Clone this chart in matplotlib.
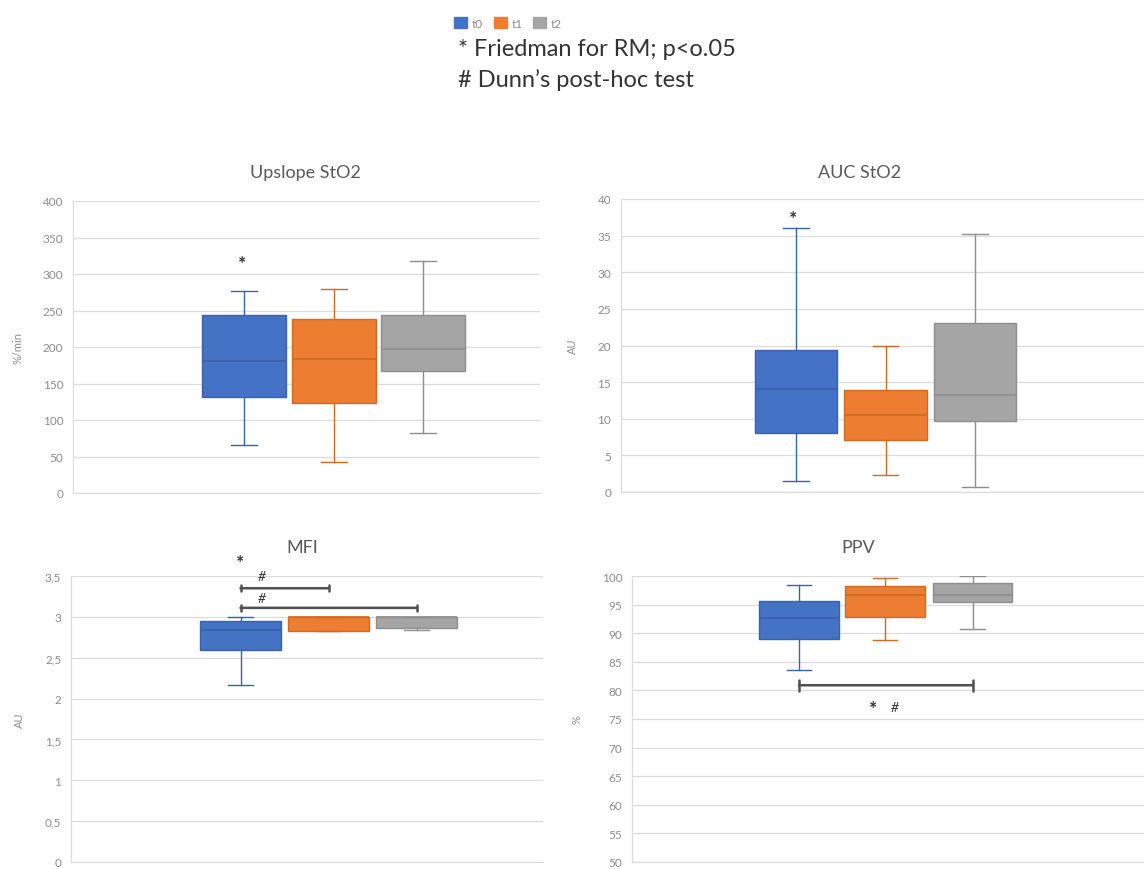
import numpy as np
import matplotlib
matplotlib.use("Agg")
import matplotlib.pyplot as plt
from matplotlib.patches import Patch
from matplotlib.ticker import FuncFormatter

plt.rcParams['font.family'] = ['Lato', 'DejaVu Sans']

# --- data (whisker low, Q1, median, Q3, whisker high) per time point ---
groups = ['t0', 't1', 't2']
colors = ['#4472C4', '#ED7D31', '#A5A5A5']
edge_colors = ['#3A62AC', '#D06A22', '#8E8E8E']

upslope_lo = [66, 42, 82]
upslope_q1 = [132, 123, 167]
upslope_med = [181, 184, 197]
upslope_q3 = [244, 239, 244]
upslope_hi = [277, 279, 318]

auc_lo = [1.5, 2.3, 0.7]
auc_q1 = [8.1, 7.1, 9.7]
auc_med = [14.0, 10.5, 13.3]
auc_q3 = [19.4, 13.9, 23.1]
auc_hi = [36.0, 19.9, 35.2]

mfi_lo = [2.17, 2.83, 2.84]
mfi_q1 = [2.59, 2.83, 2.86]
mfi_med = [2.84, 3.0, 3.0]
mfi_q3 = [2.95, 3.0, 3.0]
mfi_hi = [3.0, 3.0, 3.0]

ppv_lo = [83.6, 88.8, 90.7]
ppv_q1 = [89.0, 92.9, 95.5]
ppv_med = [92.6, 96.7, 96.7]
ppv_q3 = [95.7, 98.3, 98.8]
ppv_hi = [98.4, 99.6, 100.0]

W, H = 1144, 870
fig = plt.figure(figsize=(W / 100, H / 100), dpi=100)
fig.patch.set_facecolor('white')

TXT = '#595959'
TICK = '#8c8c8c'
GRID = '#dcdcdc'
MARK = '#333333'


def make_ax(left, top, right, bottom):
    return fig.add_axes([left / W, 1 - bottom / H, (right - left) / W, (bottom - top) / H])


def panel(ax, lo, q1, med, q3, hi, centers_px, left_px, right_px, ylim, step, ylabel, width, capw, fmt=None):
    stats = []
    for i in range(3):
        stats.append(dict(whislo=lo[i], q1=q1[i], med=med[i], q3=q3[i], whishi=hi[i], fliers=[]))
    s = (centers_px[2] - centers_px[0]) / 2.0
    ax.set_xlim(1 - (centers_px[0] - left_px) / s, 3 + (right_px - centers_px[2]) / s)
    pos = [1, 1 + (centers_px[1] - centers_px[0]) / s, 3]
    for i in range(3):
        ax.bxp([stats[i]], positions=[pos[i]], widths=width, capwidths=capw, patch_artist=True,
               showfliers=False,
               boxprops=dict(facecolor=colors[i], edgecolor=edge_colors[i], linewidth=1.0),
               medianprops=dict(color=edge_colors[i], linewidth=1.2),
               whiskerprops=dict(color=edge_colors[i], linewidth=1.0),
               capprops=dict(color=edge_colors[i], linewidth=1.0))
    ax.set_ylim(*ylim)
    ax.set_yticks(np.arange(ylim[0], ylim[1] + step / 2, step))
    if fmt is not None:
        ax.yaxis.set_major_formatter(FuncFormatter(fmt))
    ax.set_xticks([])
    ax.tick_params(axis='y', length=0, pad=7, labelsize=8.5, labelcolor=TICK)
    ax.grid(axis='y', color=GRID, linewidth=0.9)
    ax.set_axisbelow(True)
    for sp in ['top', 'right']:
        ax.spines[sp].set_visible(False)
    for sp in ['left', 'bottom']:
        ax.spines[sp].set_color(GRID)
        ax.spines[sp].set_linewidth(0.9)
    ax.set_ylabel(ylabel, fontsize=8, color=TICK, labelpad=14)
    return pos


def bracket(ax, x1, x2, y, tick):
    ax.annotate('', xy=(x2, y), xytext=(x1, y), annotation_clip=False,
                arrowprops=dict(arrowstyle='|-|,widthA=%s,widthB=%s' % (tick, tick),
                                color='#505050', lw=1.8, shrinkA=0, shrinkB=0))


# Upslope StO2
ax1 = make_ax(73, 202, 540, 494)
p1 = panel(ax1, upslope_lo, upslope_q1, upslope_med, upslope_q3, upslope_hi,
           [244, 334, 423], 73, 540, (0, 400), 50, '%/min', 0.93, 0.28)
ax1.text(0.98, 314, '*', ha='center', va='center', fontsize=14, fontweight='bold', color=MARK)
fig.text(305 / W, 1 - 173 / H, 'Upslope StO2', ha='center', va='center', fontsize=13, color=TXT)

# AUC StO2
ax2 = make_ax(621, 200, 1144, 493)
p2 = panel(ax2, auc_lo, auc_q1, auc_med, auc_q3, auc_hi,
           [796, 885.5, 975], 621, 1144, (0, 40), 5, 'AU', 0.92, 0.28)
ax2.text(0.97, 37.3, '*', ha='center', va='center', fontsize=14, fontweight='bold', color=MARK)
fig.text(860 / W, 1 - 173 / H, 'AUC StO2', ha='center', va='center', fontsize=13, color=TXT)

# MFI
ax3 = make_ax(71, 577, 543, 863)
p3 = panel(ax3, mfi_lo, mfi_q1, mfi_med, mfi_q3, mfi_hi,
           [240.5, 328.5, 416.5], 71, 543, (0, 3.5), 0.5, 'AU', 0.92, 0.28,
           fmt=lambda v, _: ('%g' % v).replace('.', ','))
bracket(ax3, p3[0], p3[1], 3.35, 0.22)
bracket(ax3, p3[0], p3[2], 3.11, 0.22)
ax3.text(1.24, 3.50, '#', ha='center', va='center', fontsize=10, style='italic', color=MARK, clip_on=False)
ax3.text(1.24, 3.23, '#', ha='center', va='center', fontsize=10, style='italic', color=MARK, clip_on=False)
ax3.text(1.0, 3.66, '*', ha='center', va='center', fontsize=14, fontweight='bold', color=MARK, clip_on=False)
fig.text(302 / W, 1 - 548 / H, 'MFI', ha='center', va='center', fontsize=13, color=TXT)

# PPV
ax4 = make_ax(632, 577, 1144, 863)
p4 = panel(ax4, ppv_lo, ppv_q1, ppv_med, ppv_q3, ppv_hi,
           [799, 885, 972.5], 632, 1144, (50, 100), 5, '%', 0.92, 0.28)
bracket(ax4, p4[0], p4[2], 80.9, 0.4)
ax4.text(1.85, 76.8, '*', ha='center', va='center', fontsize=14, fontweight='bold', color=MARK)
ax4.text(2.1, 77.1, '#', ha='center', va='center', fontsize=10, style='italic', color=MARK)
fig.text(858 / W, 1 - 548 / H, 'PPV', ha='center', va='center', fontsize=13, color=TXT)

# legend and notes
handles = [Patch(facecolor=c, edgecolor=c) for c in colors]
fig.legend(handles, groups, loc='center', bbox_to_anchor=(508 / W, 1 - 24 / H), ncol=3,
           frameon=False, fontsize=8.5, handlelength=1.1, handleheight=1.1,
           handletextpad=0.4, columnspacing=0.9, labelcolor=TICK)
fig.text(458 / W, 1 - 49 / H, '* Friedman for RM; p<o.05', ha='left', va='center',
         fontsize=17, color=MARK)
fig.text(458 / W, 1 - 80 / H, '# Dunn\u2019s post-hoc test', ha='left', va='center',
         fontsize=17, color=MARK)

fig.savefig('out.png', dpi=100, facecolor='white')
